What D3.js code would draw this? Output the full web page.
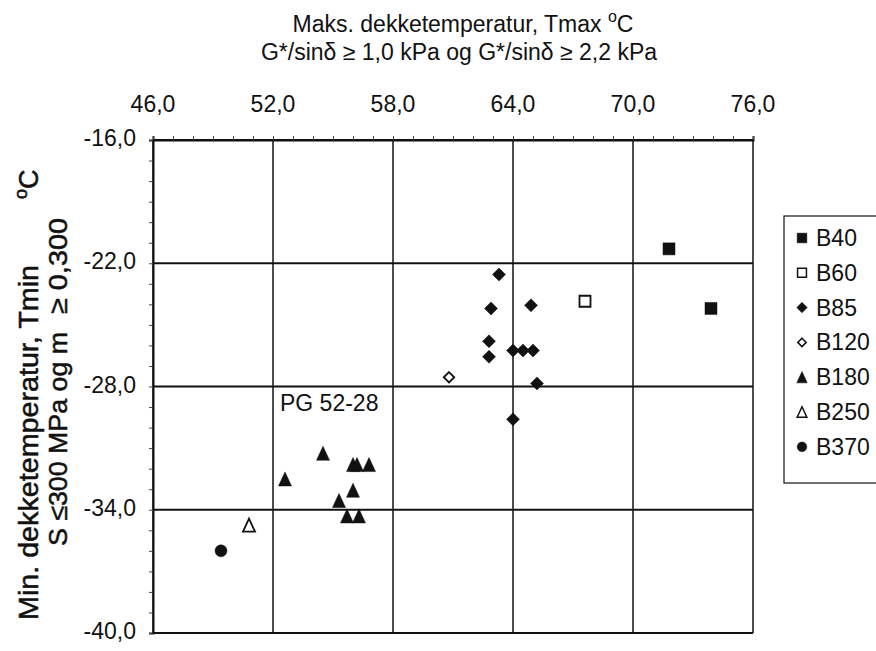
<!DOCTYPE html>
<html>
<head>
<meta charset="utf-8">
<script src="https://cdn.jsdelivr.net/npm/d3@7"></script>
<style>
  html, body { margin: 0; padding: 0; background: #fff; }
  svg { display: block; }
  text { font-family: "Liberation Sans", Arial, sans-serif; fill: #111; }
</style>
</head>
<body>
<svg id="chart" width="876" height="651"></svg>
<script>
// ---- Data ----
const xTicks = [46, 52, 58, 64, 70, 76];
const yTicks = [-16, -22, -28, -34, -40];
const seriesNames = ["B40", "B60", "B85", "B120", "B180", "B250", "B370"];

const B40x = [71.8, 73.9];
const B40y = [-21.3, -24.2];
const B60x = [67.6];
const B60y = [-23.85];
const B85x = [63.3, 62.9, 64.9, 62.8, 62.8, 64.0, 64.5, 65.0, 65.2, 64.0];
const B85y = [-22.55, -24.2, -24.05, -25.8, -26.55, -26.25, -26.25, -26.25, -27.85, -29.6];
const B120x = [60.8];
const B120y = [-27.55];
const B180x = [52.6, 54.5, 56.0, 56.2, 56.8, 56.0, 55.3, 55.7, 56.3];
const B180y = [-32.5, -31.25, -31.8, -31.8, -31.8, -33.05, -33.55, -34.3, -34.3];
const B250x = [50.8];
const B250y = [-34.75];
const B370x = [49.4];
const B370y = [-36.0];

const annotation = { text: "PG 52-28", x: 52.35, y: -29.2 };

// ---- Setup ----
const svg = d3.select("#chart");
const x = d3.scaleLinear().domain([46, 76]).range([153, 753]);
const y = d3.scaleLinear().domain([-40, -16]).range([633, 140]);
const fmt = v => d3.format(".1f")(Math.abs(v)).replace(".", ",");
const fmtY = v => (v < 0 ? "-" : "") + fmt(v);

// gridlines
const g = svg.append("g");
g.selectAll(".vg").data(xTicks).join("line")
  .attr("x1", d => x(d)).attr("x2", d => x(d))
  .attr("y1", y(-16)).attr("y2", y(-40))
  .attr("stroke", "#111").attr("stroke-width", 1.5);
g.selectAll(".hg").data(yTicks).join("line")
  .attr("y1", d => y(d)).attr("y2", d => y(d))
  .attr("x1", x(46)).attr("x2", x(76))
  .attr("stroke", "#111").attr("stroke-width", 1.8);

// axes (top and left) with minor ticks
const topAxis = d3.axisTop(x).tickValues(d3.range(46, 77, 1)).tickSize(4).tickFormat("");
const gTop = svg.append("g").attr("transform", `translate(0,${y(-16)})`).call(topAxis);
gTop.selectAll("path.domain").attr("stroke", "#111").attr("stroke-width", 2);
gTop.selectAll(".tick line").attr("stroke", "#444").attr("stroke-width", 1);

const leftAxis = d3.axisLeft(y).tickValues(d3.range(-40, -15, 1)).tickSize(4).tickFormat("");
const gLeft = svg.append("g").attr("transform", `translate(${x(46)},0)`).call(leftAxis);
gLeft.selectAll("path.domain").attr("stroke", "#111").attr("stroke-width", 2);
gLeft.selectAll(".tick line").attr("stroke", "#444").attr("stroke-width", 1);

// tick labels
svg.append("g").selectAll("text").data(xTicks).join("text")
  .attr("x", d => x(d)).attr("y", 112)
  .attr("text-anchor", "middle").attr("font-size", 23)
  .text(d => fmt(d));
svg.append("g").selectAll("text").data(yTicks).join("text")
  .attr("x", 136).attr("y", d => y(d) + 6)
  .attr("text-anchor", "end").attr("font-size", 23)
  .text(d => fmtY(d));

// titles
const t1 = svg.append("text").attr("x", 463).attr("y", 32).attr("text-anchor", "middle").attr("font-size", 23);
t1.append("tspan").text("Maks. dekketemperatur, Tmax ");
t1.append("tspan").attr("font-size", 16).attr("dy", -10).text("o");
t1.append("tspan").attr("dy", 10).text("C");
svg.append("text").attr("x", 459).attr("y", 60).attr("text-anchor", "middle").attr("font-size", 23)
  .text("G*/sinδ ≥ 1,0 kPa og G*/sinδ ≥ 2,2 kPa");

// y-axis title (rotated)
const ytStyle = sel => sel.attr("stroke", "#111").attr("stroke-width", 0.5);
svg.append("text").attr("transform", "translate(38,620) rotate(-90)")
  .attr("font-size", 27).attr("textLength", 355).attr("lengthAdjust", "spacingAndGlyphs")
  .call(ytStyle)
  .text("Min. dekketemperatur, Tmin");
const deg = svg.append("text").attr("transform", "translate(38,199) rotate(-90)")
  .attr("font-size", 27).call(ytStyle);
deg.append("tspan").attr("font-size", 18).attr("dy", -11).text("o");
deg.append("tspan").attr("dy", 11).text("C");
svg.append("text").attr("transform", "translate(67,546) rotate(-90)")
  .attr("font-size", 26).attr("textLength", 214).attr("lengthAdjust", "spacingAndGlyphs")
  .call(ytStyle)
  .text("S ≤300 MPa og m");
svg.append("text").attr("transform", "translate(67,314) rotate(-90)")
  .attr("font-size", 26).attr("textLength", 96).attr("lengthAdjust", "spacingAndGlyphs")
  .call(ytStyle)
  .text("≥ 0,300");

// annotation
svg.append("text").attr("x", x(annotation.x)).attr("y", y(annotation.y))
  .attr("font-size", 23).text(annotation.text);

// custom symbol types
const diamond = { draw(ctx, size) { const r = Math.sqrt(size) / 2; ctx.moveTo(0, -r); ctx.lineTo(r, 0); ctx.lineTo(0, r); ctx.lineTo(-r, 0); ctx.closePath(); } };
const square = { draw(ctx, size) { const r = Math.sqrt(size) / 2; ctx.rect(-r, -r, 2 * r, 2 * r); } };
const triangle = { draw(ctx, size) { const w = Math.sqrt(size) / 2, h = Math.sqrt(size) * 1.08 / 2; ctx.moveTo(0, -h); ctx.lineTo(w, h); ctx.lineTo(-w, h); ctx.closePath(); } };
const circle = { draw(ctx, size) { const r = Math.sqrt(size) / 2; ctx.moveTo(r, 0); ctx.arc(0, 0, r, 0, 2 * Math.PI); } };

// size = (width in px)^2
const styles = {
  B40:  { type: square,   size: 144, fill: true },
  B60:  { type: square,   size: 121, fill: false },
  B85:  { type: diamond,  size: 169, fill: true },
  B120: { type: diamond,  size: 110, fill: false },
  B180: { type: triangle, size: 169, fill: true },
  B250: { type: triangle, size: 144, fill: false },
  B370: { type: circle,   size: 144, fill: true }
};
const seriesData = {
  B40: [B40x, B40y], B60: [B60x, B60y], B85: [B85x, B85y], B120: [B120x, B120y],
  B180: [B180x, B180y], B250: [B250x, B250y], B370: [B370x, B370y]
};
const marks = svg.append("g");
seriesNames.forEach(name => {
  const [xs, ys] = seriesData[name];
  const st = styles[name];
  const pts = xs.map((v, i) => [v, ys[i]]);
  marks.selectAll(null).data(pts).join("path")
    .attr("transform", d => `translate(${x(d[0])},${y(d[1])})`)
    .attr("d", d3.symbol().type(st.type).size(st.size))
    .attr("fill", st.fill ? "#111" : "#fff")
    .attr("stroke", "#111").attr("stroke-width", st.fill ? 0.5 : 1.8);
});

// legend
const lg = svg.append("g");
lg.append("rect").attr("x", 784).attr("y", 216).attr("width", 110).attr("height", 267)
  .attr("fill", "#fff").attr("stroke", "#111").attr("stroke-width", 1.2);
const legendSizeScale = 0.65;
seriesNames.forEach((name, i) => {
  const cy = 238 + i * 34.8;
  const st = styles[name];
  lg.append("path")
    .attr("transform", `translate(802,${cy})`)
    .attr("d", d3.symbol().type(st.type).size(st.size * legendSizeScale))
    .attr("fill", st.fill ? "#111" : "#fff")
    .attr("stroke", "#111").attr("stroke-width", st.fill ? 0.5 : 1.5);
  lg.append("text").attr("x", 816).attr("y", cy + 8).attr("font-size", 23).text(name);
});
</script>
</body>
</html>
